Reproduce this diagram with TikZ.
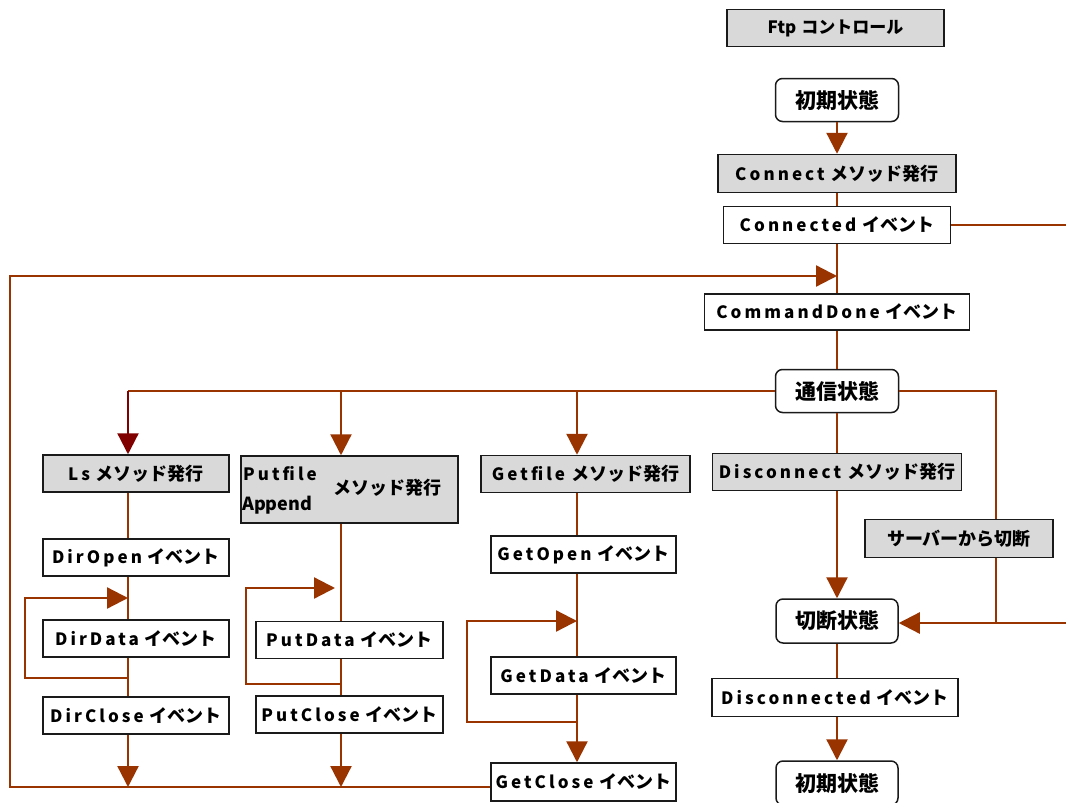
\documentclass[tikz,border=0pt]{standalone}
\usepackage{fontspec}
\setmainfont{Noto Sans CJK JP}
\newfontfamily\latsp{Noto Sans CJK JP}[LetterSpace=18]
\newcommand{\lt}[1]{{\latsp\bfseries\fontsize{17}{20}\selectfont #1}\hspace{6pt}}
\usetikzlibrary{arrows.meta}
\definecolor{conn}{RGB}{153,51,0}
\definecolor{darkconn}{RGB}{128,0,0}
\definecolor{boxgray}{RGB}{217,217,217}
\definecolor{boxline}{RGB}{26,26,26}
\begin{document}
\begin{tikzpicture}[x=1pt,y=-1pt,
  base/.style={draw=boxline, line width=1.5pt, inner sep=0pt, font=\bfseries\fontsize{18}{20}\selectfont},
  graybox/.style={base, fill=boxgray},
  evbox/.style={base, fill=white},
  statebox/.style={base, fill=white, rounded corners=7pt, font=\bfseries\fontsize{21}{24}\selectfont},
  link/.style={draw=conn, line width=2.3pt},
  arr/.style={link, -{Triangle[length=21pt,width=21pt]}},
  darr/.style={draw=darkconn, line width=2.3pt, -{Triangle[length=21pt,width=21pt]}},
  intext/.style={anchor=west, inner sep=0pt, font=\bfseries\fontsize{18}{20}\selectfont}
]
\useasboundingbox (0,0) rectangle (1066,803);
\clip (0,0) rectangle (1066,803);

% main column
\node[graybox, minimum width=217pt, minimum height=37pt, font=\bfseries\fontsize{17}{20}\selectfont] (ftp) at (835.5,28) {Ftp\hspace{5pt}コントロール};
\node[statebox, minimum width=123pt, minimum height=43pt] (init1) at (837,100) {初期状態};
\node[graybox, minimum width=238pt, minimum height=38pt] (connect) at (837,173.5) {\lt{Connect}メソッド発行};
\node[evbox, minimum width=227pt, minimum height=37pt] (connected) at (837,225) {\lt{Connected}イベント};
\node[evbox, minimum width=265pt, minimum height=36pt] (cmddone) at (837,312) {\lt{CommandDone}イベント};
\node[statebox, minimum width=123pt, minimum height=43pt] (tsushin) at (837,391) {通信状態};

% method boxes
\node[graybox, minimum width=186pt, minimum height=37pt] (ls) at (136,473.5) {\lt{Ls}メソッド発行};
\node[graybox, minimum width=217pt, minimum height=67pt] (put) at (349.5,489.5) {};
\node[intext] (putt1) at (243,474) {\lt{Putfile}};
\node[intext] (putt2) at (242,505) {Append};
\node[intext] (putt3) at (333,488) {メソッド発行};
\node[graybox, minimum width=209pt, minimum height=37pt] (get) at (585.5,474) {\lt{Getfile}メソッド発行};
\node[graybox, minimum width=249pt, minimum height=37pt] (disc) at (837,472) {\lt{Disconnect}メソッド発行};

% Ls column
\node[evbox, minimum width=186pt, minimum height=37pt] (dopen) at (136,557.5) {\lt{DirOpen}イベント};
\node[evbox, minimum width=186pt, minimum height=37pt] (ddata) at (136,638.5) {\lt{DirData}イベント};
\node[evbox, minimum width=186pt, minimum height=37pt] (dclose) at (136,715.5) {\lt{DirClose}イベント};

% Put column
\node[evbox, minimum width=187pt, minimum height=37pt] (pdata) at (349.5,640) {\lt{PutData}イベント};
\node[evbox, minimum width=187pt, minimum height=37pt] (pclose) at (349.5,714.5) {\lt{PutClose}イベント};

% Get column
\node[evbox, minimum width=185pt, minimum height=37pt] (gopen) at (583.5,554.5) {\lt{GetOpen}イベント};
\node[evbox, minimum width=185pt, minimum height=37pt] (gdata) at (583.5,675.5) {\lt{GetData}イベント};
\node[evbox, minimum width=185pt, minimum height=38pt] (gclose) at (583.5,782) {\lt{GetClose}イベント};

% Disconnect column
\node[graybox, minimum width=188pt, minimum height=38pt] (server) at (959,538.5) {サーバーから切断};
\node[statebox, minimum width=122pt, minimum height=44pt] (cut) at (837,621) {切断状態};
\node[evbox, minimum width=246pt, minimum height=38pt] (discd) at (835,697.5) {\lt{Disconnected}イベント};
\node[statebox, minimum width=122pt, minimum height=44pt] (init2) at (837,783) {初期状態};

% coordinates
\coordinate (cr) at (1066,225);
\coordinate (lt) at (10,276);
\coordinate (lb) at (10,787);
\coordinate (bl) at (128,391);
\coordinate (bp) at (341,391);
\coordinate (bg) at (577,391);
\coordinate (rt) at (996,391);
\coordinate (rb) at (996,623);
\coordinate (re) at (1066,623);
\coordinate (l1) at (25,598);
\coordinate (l2) at (25,678);
\coordinate (p1) at (246,588);
\coordinate (p2) at (246,684);
\coordinate (p3) at (335,588);
\coordinate (g1) at (467,621);
\coordinate (g2) at (467,722);

% main connectors
\draw[arr] (init1.south) -- (connect.north);
\draw[link] (connect.south) -- (connected.north);
\draw[link] (connected.east) -- (cr);
\draw[link] (connected.south) -- (cmddone.north);
\draw[arr] (gclose.west |- lb) -- (lb) -- (lt) -- (lt -| cmddone.north);
\draw[link] (cmddone.south) -- (tsushin.north);

% branches
\draw[link] (tsushin.west) -- (bl);
\draw[darr] (bl) -- (bl |- ls.north);
\draw[arr] (bp) -- (bp |- put.north);
\draw[arr] (bg) -- (bg |- get.north);
\draw[link] (tsushin.south) -- (disc.north);
\draw[link] (tsushin.east) -- (rt) -- (rt |- server.north);
\draw[link] (server.south -| rb) -- (rb) -- (re);
\draw[arr] (rb) -- (cut.east |- rb);

% Ls column
\draw[link] (ls.south -| bl) -- (dopen.north -| bl);
\draw[link] (dopen.south -| bl) -- (ddata.north -| bl);
\draw[link] (ddata.south -| bl) -- (dclose.north -| bl);
\draw[arr] (l2 -| bl) -- (l2) -- (l1) -- (l1 -| bl);
\draw[arr] (dclose.south -| bl) -- (lb -| bl);

% Put column
\draw[link] (put.south -| bp) -- (pdata.north -| bp);
\draw[link] (pdata.south -| bp) -- (pclose.north -| bp);
\draw[arr] (p2 -| bp) -- (p2) -- (p1) -- (p3);
\draw[arr] (pclose.south -| bp) -- (lb -| bp);

% Get column
\draw[link] (get.south -| bg) -- (gopen.north -| bg);
\draw[link] (gopen.south -| bg) -- (gdata.north -| bg);
\draw[arr] (g2 -| bg) -- (g2) -- (g1) -- (g1 -| bg);
\draw[arr] (gdata.south -| bg) -- (gclose.north -| bg);

% Disconnect column
\draw[arr] (disc.south) -- (cut.north);
\draw[link] (cut.south) -- (discd.north -| cut.south);
\draw[arr] (discd.south -| cut.south) -- (init2.north);
\end{tikzpicture}
\end{document}
